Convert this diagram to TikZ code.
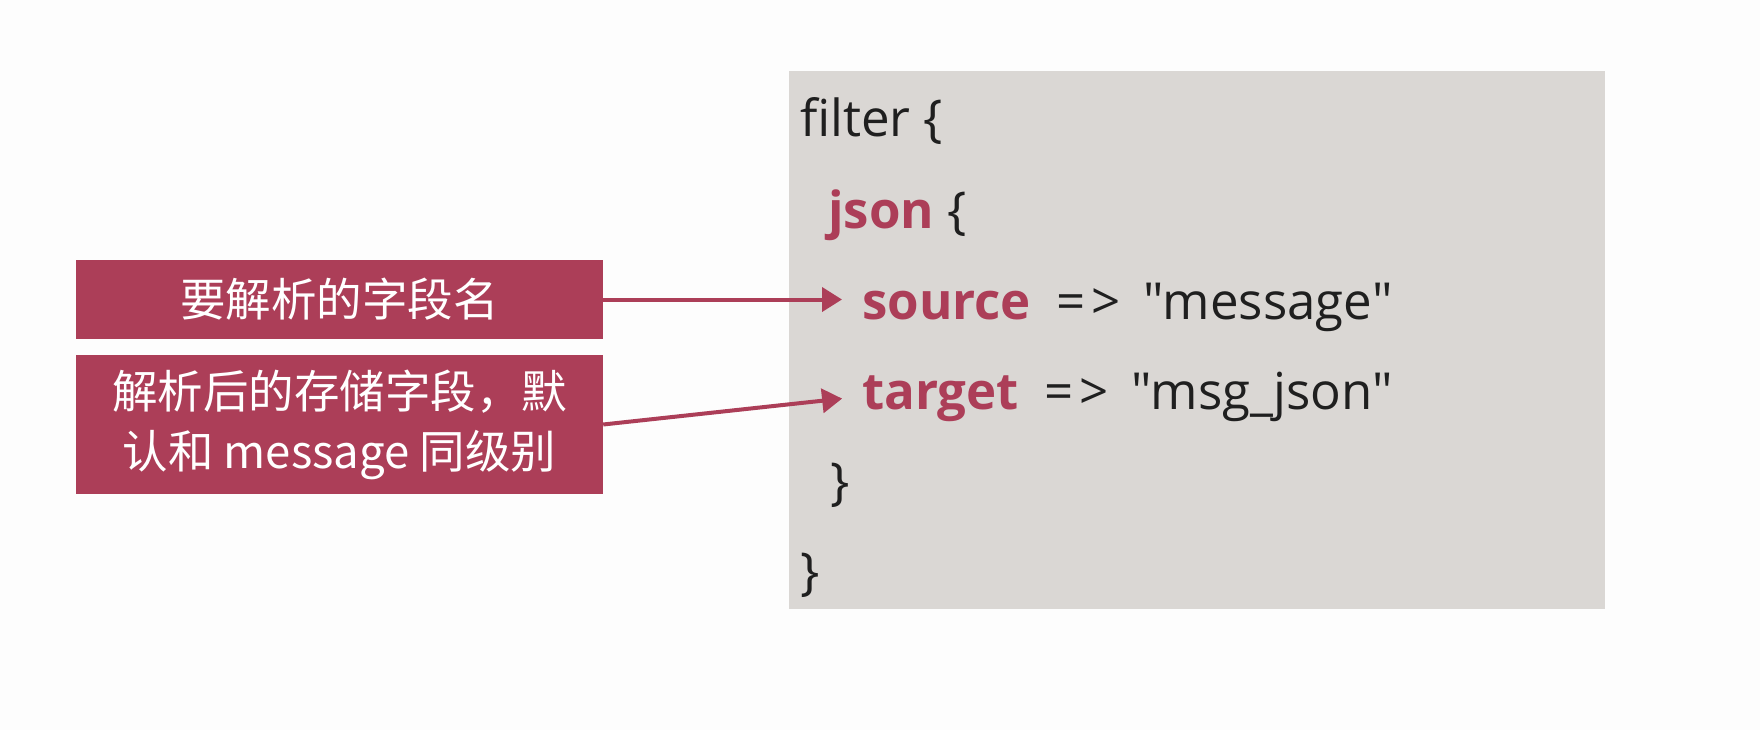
\documentclass[tikz,border=0pt]{standalone}
\usepackage{fontspec}
\setmainfont{Open Sans}[Ligatures=TeXOff]
\newfontfamily\cjk{Noto Sans CJK SC}
\usetikzlibrary{arrows.meta}
\definecolor{jred}{RGB}{172,62,88}
\definecolor{boxgray}{RGB}{218,215,212}
\definecolor{bg}{RGB}{253,253,253}
\newcommand{\arr}{\kern12pt=\kern6pt>\kern10pt}
\tikzset{
  code/.style={anchor=base west, inner sep=0pt, font=\fontsize{51}{60}\selectfont, text=black!88},
  lab/.style={fill=jred, text=white, inner sep=0pt, minimum width=527pt, align=center, font=\cjk\fontsize{45.5}{60}\selectfont},
  conn/.style={draw=jred, line width=4pt, -{Triangle[length=20pt,width=24pt]}, shorten >=20pt}
}
\begin{document}
\begin{tikzpicture}[x=1pt,y=-1pt]
\useasboundingbox (0,0) rectangle (1760,730);
\fill[bg] (0,0) rectangle (1760,730);
\node[fill=boxgray, inner sep=0pt, minimum width=816pt, minimum height=538pt] (codebox) at (1197,340) {};
\node[code] (flt) at (800,137) {filter \{};
\node[code] (js) at (828,228) {\textbf{\color{jred}json} \{};
\node[code] (src) at (862,319) {\textbf{\color{jred}source} \arr{} "message"};
\node[code] (tgt) at (862,409) {\textbf{\color{jred}target} \arr{} "msg\_json"};
\node[code] (cl1) at (830,499) {\}};
\node[code] (cl2) at (800,589) {\}};
\node[lab, minimum height=79pt] (l1) at (339.5,299.5) {要解析的字段名};
\node[lab, minimum height=139pt] (l2) at (339.5,424.5) {解析后的存储字段，默\\认和 message 同级别};
\draw[conn] (l1.east) -- (l1.east -| src.west);
\draw[conn] (l2.east) -- (src.west |- tgt.west);
\end{tikzpicture}
\end{document}
